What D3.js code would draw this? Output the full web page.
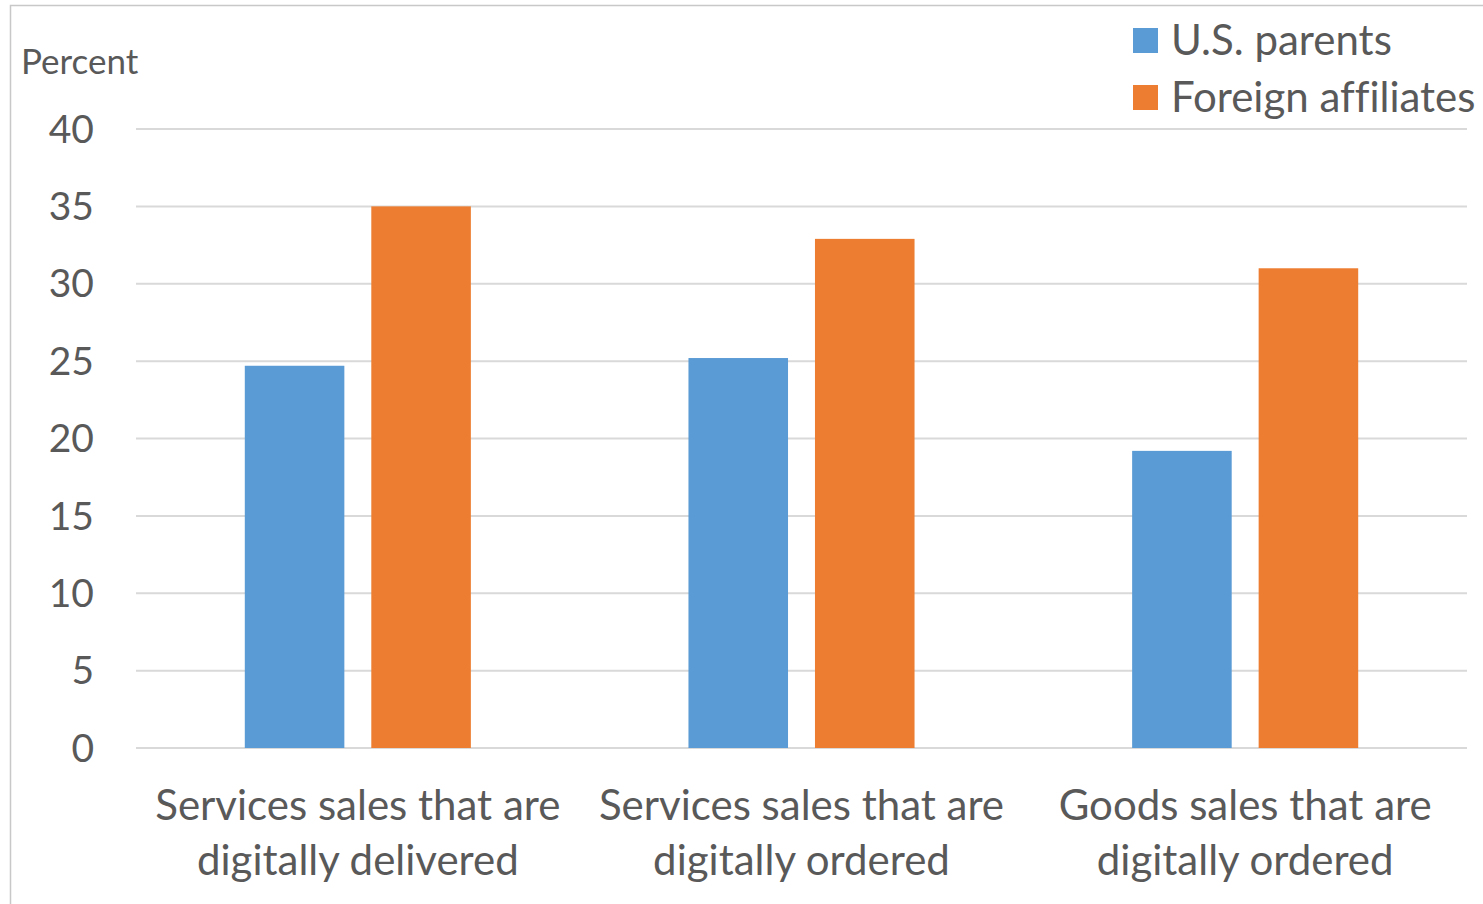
<!DOCTYPE html>
<html>
<head>
<meta charset="utf-8">
<script src="https://cdn.jsdelivr.net/npm/d3@7"></script>
<style>
  body { margin: 0; background: #fff; }
  text { font-family: Lato, "Open Sans", sans-serif; fill: #595959; font-variant-ligatures: none; }
</style>
</head>
<body>
<div class="chartWrap"></div>
<script>
var width = 1483,
  height = 904,
  margin = {top: 129, right: 16, bottom: 156, left: 136};

var categories = [
  ['Services sales that are', 'digitally delivered'],
  ['Services sales that are', 'digitally ordered'],
  ['Goods sales that are', 'digitally ordered']
];
var series = ['U.S. parents', 'Foreign affiliates'];
var usParents = [24.7, 25.2, 19.2];
var foreignAffiliates = [35.0, 32.9, 31.0];
var yTicks = [0, 5, 10, 15, 20, 25, 30, 35, 40];
var colors = ['#5b9bd5', '#ed7d31'];

var values = [usParents, foreignAffiliates];

var svg = d3.select('.chartWrap')
  .append('svg')
  .attr('width', width)
  .attr('height', height);

// outer frame
svg.append('rect')
  .attr('x', 10.5)
  .attr('y', 5.5)
  .attr('width', width)
  .attr('height', height)
  .style('fill', 'none')
  .style('stroke', '#c8c8c8')
  .style('stroke-width', 1.5);

var x0 = d3.scaleBand()
  .domain(d3.range(categories.length))
  .range([margin.left, width - margin.right]);

var x1 = d3.scaleBand()
  .domain(series)
  .range([0, x0.bandwidth()])
  .paddingInner(0.213)
  .paddingOuter(0.86);

var y = d3.scaleLinear()
  .domain([0, 40])
  .range([height - margin.bottom, margin.top]);

//gridlines
svg.append('g')
  .selectAll('line')
  .data(yTicks)
  .enter()
    .append('line')
    .attr('x1', margin.left)
    .attr('x2', width - margin.right)
    .attr('y1', function(d){ return y(d); })
    .attr('y2', function(d){ return y(d); })
    .style('stroke', '#d9d9d9')
    .style('stroke-width', 2);

//y tick labels
svg.append('g')
  .selectAll('text')
  .data(yTicks)
  .enter()
    .append('text')
    .attr('x', 94)
    .attr('y', function(d){ return y(d); })
    .attr('dy', '0.35em')
    .attr('text-anchor', 'end')
    .style('font-size', '39px')
    .text(function(d){ return d; });

svg.append('text')
  .attr('x', 21)
  .attr('y', 74)
  .style('font-size', '35px')
  .text('Percent');

//bars
var groups = svg.append('g')
  .selectAll('g')
  .data(categories)
  .enter()
    .append('g')
    .attr('transform', function(d, i){ return 'translate(' + x0(i) + ',0)'; });

groups.selectAll('rect')
  .data(function(d, i){
    return series.map(function(s, j){ return {s: s, v: values[j][i], c: colors[j]}; });
  })
  .enter()
    .append('rect')
    .attr('x', function(d){ return x1(d.s); })
    .attr('width', x1.bandwidth())
    .attr('y', function(d){ return y(d.v); })
    .attr('height', function(d){ return y(0) - y(d.v); })
    .style('fill', function(d){ return d.c; });

//category labels
groups.selectAll('text')
  .data(function(d){ return d; })
  .enter()
    .append('text')
    .attr('x', x0.bandwidth() / 2)
    .attr('y', function(d, i){ return 820 + i * 55; })
    .attr('text-anchor', 'middle')
    .style('font-size', '42px')
    .text(function(d){ return d; });

//legend
var legend = svg.append('g')
  .selectAll('g')
  .data(series)
  .enter()
    .append('g')
    .attr('transform', function(d, i){ return 'translate(1133,' + (28 + i * 57) + ')'; });

legend.append('rect')
  .attr('width', 25)
  .attr('height', 25)
  .style('fill', function(d, i){ return colors[i]; });

legend.append('text')
  .attr('x', 38)
  .attr('y', 12.5)
  .attr('dy', '0.35em')
  .style('font-size', '42px')
  .text(function(d){ return d; });
</script>
</body>
</html>
